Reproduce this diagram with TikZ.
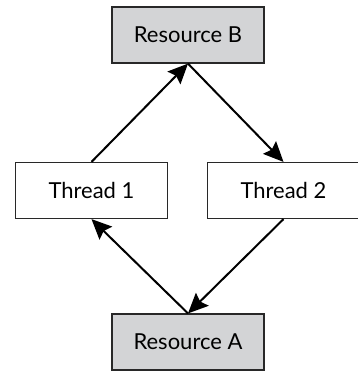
\documentclass[tikz,border=0pt]{standalone}
\usepackage{fontspec}
\setmainfont{Lato}
\usetikzlibrary{arrows.meta}
\definecolor{resgray}{RGB}{211,212,214}
\definecolor{boxline}{RGB}{40,40,40}

\begin{document}
\begin{tikzpicture}[x=0.5pt,y=-0.5pt,every node/.style={font=\fontsize{11}{13}\selectfont},
    box/.style={draw=boxline,line width=0.6pt,minimum width=76pt,minimum height=28pt,inner sep=0pt},
    res/.style={box,fill=resgray},
    link/.style={line width=1pt,-{Stealth[length=10pt,width=9pt,inset=1.5pt]}}]
    \useasboundingbox (0,0) rectangle (358,371);
    \node[res] (resB) at (188,35) {Resource B};
    \node[box] (th1) at (91.5,190.5) {Thread 1};
    \node[box] (th2) at (283.5,190.5) {Thread 2};
    \node[res] (resA) at (188,342) {Resource A};
    \draw[link] (th1.north) -- (resB.south);
    \draw[link] (resB.south) -- (th2.north);
    \draw[link] (th2.south) -- (resA.north);
    \draw[link] (resA.north) -- (th1.south);
  \end{tikzpicture}
\end{document}
